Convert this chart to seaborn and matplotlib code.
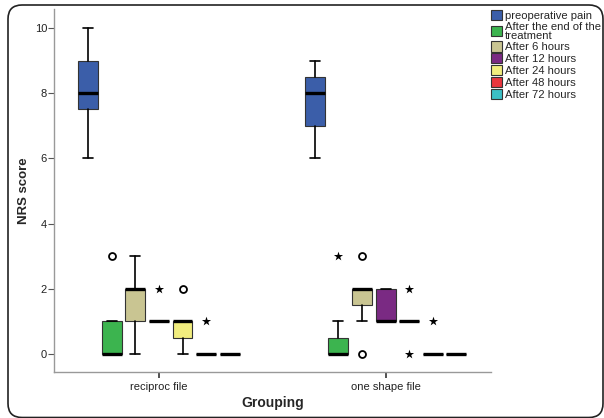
import numpy as np
import matplotlib
matplotlib.use("Agg")
from matplotlib import pyplot as plt
from matplotlib.patches import Patch, FancyBboxPatch
from matplotlib.transforms import IdentityTransform
import seaborn as sns

groups = ["reciproc file", "one shape file"]
series = ["preoperative pain", "After the end of the\ntreatment", "After 6 hours",
          "After 12 hours", "After 24 hours", "After 48 hours", "After 72 hours"]
colors = ["#3b5ea9", "#3cb44f", "#c9c592", "#7a2a83", "#f1ed7e", "#e8353d", "#3bbfc5"]

# per group: one value per series
whisk_lo = [[6, 0, 0, 1, 0, 0, 0], [6, 0, 1, 1, 1, 0, 0]]
q1 = [[7.5, 0, 1, 1, 0.5, 0, 0], [7, 0, 1.5, 1, 1, 0, 0]]
median = [[8, 0, 2, 1, 1, 0, 0], [8, 0, 2, 1, 1, 0, 0]]
q3 = [[9, 1, 2, 1, 1, 0, 0], [8.5, 0.5, 2, 2, 1, 0, 0]]
whisk_hi = [[10, 1, 3, 1, 1, 0, 0], [9, 1, 2, 2, 1, 0, 0]]

# outliers (o) and extremes (*): (group, series, value)
outliers = [(0, 1, 3), (0, 4, 2), (1, 2, 3), (1, 2, 0)]
extremes = [(0, 3, 2), (0, 5, 1), (1, 1, 3), (1, 4, 2), (1, 4, 0), (1, 5, 1)]

sns.set_style("white")
plt.rcParams['font.family'] = ['Liberation Sans', 'DejaVu Sans']

fig = plt.figure(figsize=(6.04, 4.18), dpi=100)
ax = fig.add_axes([54 / 604, 1 - 372 / 418, (491 - 54) / 604, (372 - 9) / 418])

step = 0.104
width = 0.088


def pos(g, s):
    return g + (s - 3) * step


stats, positions, facecols = [], [], []
for g in range(len(groups)):
    for s in range(len(series)):
        fl = [v for gg, ss, v in outliers if gg == g and ss == s]
        stats.append(dict(whislo=whisk_lo[g][s], q1=q1[g][s], med=median[g][s],
                          q3=q3[g][s], whishi=whisk_hi[g][s], fliers=fl))
        positions.append(pos(g, s))
        facecols.append(colors[s])

bp = ax.bxp(stats, positions=positions, widths=width, capwidths=width * 0.5,
            patch_artist=True, manage_ticks=False,
            boxprops=dict(edgecolor="#333333", linewidth=0.8),
            medianprops=dict(color="black", linewidth=2.4, solid_capstyle="butt"),
            whiskerprops=dict(color="black", linewidth=1.2),
            capprops=dict(color="black", linewidth=1.2),
            flierprops=dict(marker="o", markerfacecolor="none", markeredgecolor="black",
                            markersize=5, markeredgewidth=1.3))
for box, c in zip(bp["boxes"], facecols):
    box.set_facecolor(c)

ex_x = [pos(g, s) for g, s, v in extremes]
ex_y = [v for g, s, v in extremes]
ax.scatter(ex_x, ex_y, marker="*", s=48, color="black", linewidths=0, zorder=4)

ax.set_xlim(-0.463, 1.465)
ax.set_ylim(-0.55, 10.58)
ax.set_xticks(range(len(groups)))
ax.set_xticklabels(groups, fontsize=8, color="#222222")
ax.set_yticks([0, 2, 4, 6, 8, 10])
ax.set_yticklabels(["0", "2", "4", "6", "8", "10"], fontsize=8, color="#222222")
ax.tick_params(axis="x", bottom=True, direction="out", length=4, width=1.2,
               color="#333333", pad=3)
ax.tick_params(axis="y", left=True, direction="out", length=4, width=0.8,
               color="#555555", pad=1)
for side in ["top", "right"]:
    ax.spines[side].set_visible(False)
ax.spines["left"].set_color("#999999")
ax.spines["bottom"].set_color("#999999")
ax.spines["left"].set_linewidth(1.0)
ax.spines["bottom"].set_linewidth(1.0)

ax.set_xlabel("Grouping", fontsize=10, fontweight="bold", va="center")
ax.xaxis.set_label_coords(0.5, -0.085)
ax.set_ylabel("NRS score", fontsize=9.5, fontweight="bold", va="center")
ax.yaxis.set_label_coords(-0.069, 0.5)

handles = [Patch(facecolor=c, edgecolor="#333333", linewidth=0.8, label=n)
           for c, n in zip(colors, series)]
leg = fig.legend(handles=handles, loc="upper left", bbox_to_anchor=(491 / 604, 1 - 10 / 418),
                 frameon=False, fontsize=8.1, handlelength=1.0, handleheight=1.0,
                 handletextpad=0.25, labelspacing=0.08, borderaxespad=0, borderpad=0)
for t in leg.get_texts():
    t.set_linespacing(0.85)

frame = FancyBboxPatch((8, 0.5), 595, 412.5, boxstyle="round,pad=0,rounding_size=14",
                       transform=IdentityTransform(), facecolor="none",
                       edgecolor="#222222", linewidth=1.2)
fig.add_artist(frame)

fig.savefig("out.png", dpi=100)
